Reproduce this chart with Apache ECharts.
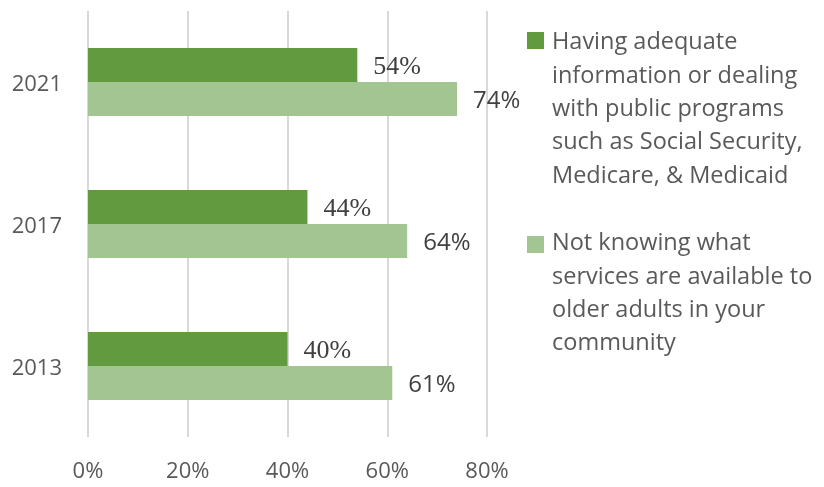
<!DOCTYPE html>
<html>
<head>
<meta charset="utf-8">
<script src="https://cdn.jsdelivr.net/npm/echarts@6/dist/echarts.min.js"></script>
<style>
  html, body { margin: 0; padding: 0; background: #fff; }
  #chart { width: 824px; height: 487px; }
</style>
</head>
<body>
<div id="chart"></div>
<script>
const years = ['2013', '2017', '2021'];
const infoValues = [40, 44, 54];
const servicesValues = [61, 64, 74];
const seriesNames = [
  'Having adequate\ninformation or dealing\nwith public programs\nsuch as Social Security,\nMedicare, & Medicaid',
  'Not knowing what\nservices are available to\nolder adults in your\ncommunity'
];
const xTicks = [0, 20, 40, 60, 80];

const darkGreen = '#629a3f';
const lightGreen = '#a3c592';
const sans = '"Open Sans", sans-serif';

const chart = echarts.init(document.getElementById('chart'));

const option = {
  animation: false,
  grid: { left: 88, right: 337, top: 11, bottom: 50 },
  xAxis: {
    type: 'value',
    min: xTicks[0],
    max: xTicks[xTicks.length - 1],
    interval: 20,
    axisLine: { show: false },
    axisTick: { show: false },
    splitLine: { lineStyle: { color: '#d9d9d9', width: 2 } },
    axisLabel: {
      formatter: '{value}%',
      fontFamily: sans, fontSize: 22, color: '#595959', margin: 24
    }
  },
  yAxis: {
    type: 'category',
    data: years,
    axisLine: { show: false },
    axisTick: { show: false },
    axisLabel: { fontFamily: sans, fontSize: 22, color: '#595959', margin: 26, lineHeight: 30, verticalAlign: 'top', padding: [-12, 0, 0, 0] }
  },
  series: [
    {
      name: seriesNames[0],
      type: 'bar',
      data: infoValues,
      itemStyle: { color: darkGreen },
      barGap: '0%',
      barCategoryGap: '52%',
      label: {
        show: true, position: 'right', distance: 16, offset: [0, 2],
        formatter: '{c}%',
        fontFamily: '"Liberation Serif", serif', fontSize: 26, color: '#404040'
      }
    },
    {
      name: seriesNames[1],
      type: 'bar',
      data: servicesValues,
      itemStyle: { color: lightGreen },
      barGap: '0%',
      barCategoryGap: '52%',
      label: {
        show: true, position: 'right', distance: 16, offset: [0, 2],
        formatter: '{c}%',
        fontFamily: sans, fontSize: 24, color: '#404040'
      }
    }
  ],
  graphic: [
    { type: 'rect', left: 527, top: 32, shape: { width: 17, height: 17 }, style: { fill: darkGreen } },
    { type: 'text', left: 552, top: 26, style: { text: seriesNames[0], font: '23.5px ' + sans, fill: '#595959', lineHeight: 33.3 } },
    { type: 'rect', left: 527, top: 236, shape: { width: 17, height: 17 }, style: { fill: lightGreen } },
    { type: 'text', left: 552, top: 227, style: { text: seriesNames[1], font: '23.5px ' + sans, fill: '#595959', lineHeight: 33.3 } }
  ]
};

chart.setOption(option);
</script>
</body>
</html>
